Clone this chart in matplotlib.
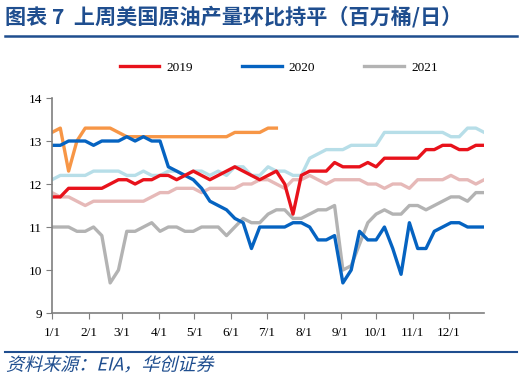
import matplotlib
matplotlib.use('Agg')
import matplotlib.pyplot as plt
from matplotlib.lines import Line2D
from matplotlib.textpath import TextPath
from matplotlib.patches import PathPatch
from matplotlib.font_manager import FontProperties
from matplotlib.transforms import Affine2D
import numpy as np

# weekly US crude production, million bbl/d
s2019 = [11.7, 11.7, 11.9, 11.9, 11.9, 11.9, 11.9, 12.0, 12.1, 12.1, 12.0, 12.1, 12.1,
         12.2, 12.2, 12.1, 12.2, 12.3, 12.2, 12.1, 12.2, 12.3, 12.4, 12.3, 12.2, 12.1,
         12.2, 12.3, 12.0, 11.3, 12.2, 12.3, 12.3, 12.3, 12.5, 12.4, 12.4, 12.4, 12.5,
         12.4, 12.6, 12.6, 12.6, 12.6, 12.6, 12.8, 12.8, 12.9, 12.9, 12.8, 12.8, 12.9, 12.9]
s2020 = [12.9, 12.9, 13.0, 13.0, 13.0, 12.9, 13.0, 13.0, 13.0, 13.1, 13.0, 13.1, 13.0,
         13.0, 12.4, 12.3, 12.2, 12.1, 11.9, 11.6, 11.5, 11.4, 11.2, 11.1, 10.5, 11.0,
         11.0, 11.0, 11.0, 11.1, 11.1, 11.0, 10.7, 10.7, 10.8, 9.7, 10.0, 10.9, 10.7,
         10.7, 11.0, 10.5, 9.9, 11.1, 10.5, 10.5, 10.9, 11.0, 11.1, 11.1, 11.0, 11.0, 11.0]
s2021 = [11.0, 11.0, 11.0, 10.9, 10.9, 11.0, 10.8, 9.7, 10.0, 10.9, 10.9, 11.0, 11.1,
         10.9, 11.0, 11.0, 10.9, 10.9, 11.0, 11.0, 11.0, 10.8, 11.0, 11.2, 11.1, 11.1,
         11.3, 11.4, 11.4, 11.2, 11.2, 11.3, 11.4, 11.4, 11.5, 10.0, 10.1, 10.6, 11.1,
         11.3, 11.4, 11.3, 11.3, 11.5, 11.5, 11.4, 11.5, 11.6, 11.7, 11.7, 11.6, 11.8, 11.8]
# unlabelled series in the original chart
s_orange = [13.2, 13.3, 12.3, 13.0, 13.3, 13.3, 13.3, 13.3, 13.2, 13.1, 13.1, 13.1, 13.1,
            13.1, 13.1, 13.1, 13.1, 13.1, 13.1, 13.1, 13.1, 13.1, 13.2, 13.2, 13.2, 13.2,
            13.3, 13.3]
s_lightblue = [12.1, 12.2, 12.2, 12.2, 12.2, 12.3, 12.3, 12.3, 12.3, 12.2, 12.2, 12.3, 12.2,
               12.2, 12.3, 12.3, 12.2, 12.3, 12.3, 12.2, 12.3, 12.2, 12.4, 12.4, 12.2, 12.2,
               12.4, 12.3, 12.3, 12.2, 12.2, 12.6, 12.7, 12.8, 12.8, 12.8, 12.9, 12.9, 12.9,
               12.9, 13.2, 13.2, 13.2, 13.2, 13.2, 13.2, 13.2, 13.2, 13.1, 13.1, 13.3, 13.3, 13.2]
s_pink = [11.8, 11.7, 11.7, 11.6, 11.5, 11.6, 11.6, 11.6, 11.6, 11.6, 11.6, 11.6, 11.7,
          11.8, 11.8, 11.9, 11.9, 11.9, 11.8, 11.9, 11.9, 11.9, 11.9, 12.0, 12.0, 12.1,
          12.1, 12.0, 11.9, 12.1, 12.1, 12.2, 12.1, 12.0, 12.1, 12.1, 12.1, 12.1, 12.0,
          12.0, 11.9, 12.0, 12.0, 11.9, 12.1, 12.1, 12.1, 12.1, 12.2, 12.1, 12.1, 12.0, 12.1]

month_days = [0, 31, 59, 90, 120, 151, 181, 212, 243, 273, 304, 334]
month_labels = ['1/1', '2/1', '3/1', '4/1', '5/1', '6/1', '7/1', '8/1', '9/1', '10/1', '11/1', '12/1']

plt.rcParams['font.family'] = ['Liberation Serif', 'Noto Sans CJK SC']
navy = '#1F4E8F'

fig = plt.figure(figsize=(5.24, 3.79), dpi=100)
ax = fig.add_axes([0.0992, 0.1741, 0.8248, 0.5673])

def days(s):
    return np.arange(len(s)) * 7

lw = 2.4
ax.plot(days(s_pink), s_pink, color='#E6B9B8', lw=lw)
ax.plot(days(s_lightblue), s_lightblue, color='#B7DEE8', lw=lw)
ax.plot(days(s_orange), s_orange, color='#F79646', lw=lw)
ax.plot(days(s2021), s2021, color='#B3B3B3', lw=lw, label='2021')
ax.plot(days(s2020), s2020, color='#0563C1', lw=lw, label='2020')
ax.plot(days(s2019), s2019, color='#E8121B', lw=lw, label='2019')

ax.set_xlim(0, 364)
ax.set_ylim(9, 14)
ax.set_yticks(range(9, 15))
ax.set_xticks(month_days)
ax.set_xticklabels(month_labels)
for sp in ['top', 'right']:
    ax.spines[sp].set_visible(False)
for sp in ['left', 'bottom']:
    ax.spines[sp].set_color('#7f7f7f')
    ax.spines[sp].set_linewidth(1.2)
ax.tick_params(axis='both', direction='out', length=4, color='#7f7f7f', labelsize=9.5, pad=3)
ax.tick_params(axis='x', pad=6)

handles, labels = ax.get_legend_handles_labels()
order = [2, 1, 0]
fig.legend([handles[i] for i in order], [labels[i] for i in order],
           loc='center', bbox_to_anchor=(0.532, 0.8206), ncol=3, frameon=False,
           fontsize=9.5, handlelength=3.0, handletextpad=0.55, columnspacing=3.7)

fig.text(0.01, 0.955, '图表 7  上周美国原油产量环比持平（百万桶/日）', color=navy,
         fontsize=15.2, fontweight='bold', va='center', ha='left',
         family=['Noto Sans CJK SC', 'DejaVu Sans'])
fig.add_artist(Line2D([0.01, 0.987], [1 - 36 / 379] * 2, color=navy, lw=1.8))
fig.add_artist(Line2D([0.01, 0.987], [1 - 352 / 379] * 2, color=navy, lw=1.5))

# source note, slanted by hand since the CJK font has no italic
src = TextPath((0, 0), '资料来源：EIA，华创证券', size=13,
               prop=FontProperties(family='Noto Sans CJK SC'))
tr = (Affine2D().skew_deg(14, 0).translate(6 * 72 / 100, 8.5 * 72 / 100)
      .scale(1 / 72) + fig.dpi_scale_trans)
fig.add_artist(PathPatch(src, transform=tr, color=navy, lw=0))

fig.savefig('out.png', dpi=100)
